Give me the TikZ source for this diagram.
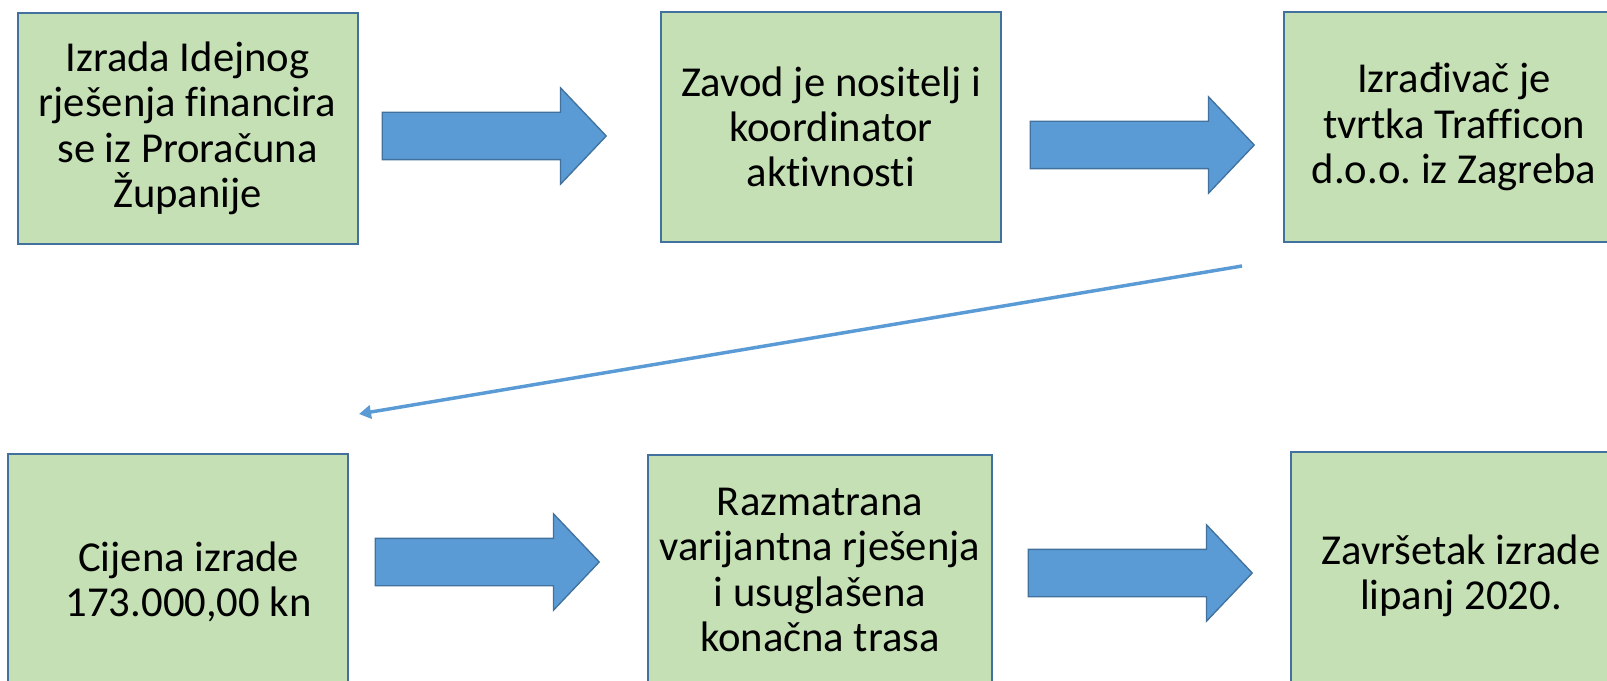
\documentclass[tikz,border=0pt]{standalone}
\usepackage{fontspec}
\setmainfont[Ligatures=NoCommon]{Carlito}
\usetikzlibrary{shapes.arrows,arrows.meta}
\definecolor{boxfill}{HTML}{C5E0B4}
\definecolor{boxline}{HTML}{41719C}
\definecolor{flow}{HTML}{5B9BD5}
\frenchspacing

\begin{document}
\begin{tikzpicture}[
    x=0.75pt,y=-0.75pt,
    box/.style={draw=boxline,fill=boxfill,line width=1.5pt,minimum width=255pt,minimum height=173pt,inner sep=0pt,align=center,font=\fontsize{32}{34}\selectfont},
    bigarrow/.style={single arrow,draw=boxline,fill=flow,line width=1pt,minimum height=168pt,inner xsep=0pt,inner ysep=17.25pt,single arrow head extend=18.4pt,single arrow tip angle=93},
    link/.style={-{Triangle[length=9pt,width=10pt]},draw=flow,line width=2.6pt}
  ]
    \clip (0,0) rectangle (1607,681);

    % top row
    \node[box] (idejno) at (187.5,128.5) {Izrada Idejnog\\rješenja financira\\se iz Proračuna\\Županije};
    \node[box] (zavod) at (831,127) {Zavod je nositelj i\\koordinator\\aktivnosti};
    \node[box] (izradjivac) at (1454,127) {Izrađivač je\\tvrtka Trafficon\\d.o.o. iz Zagreba};

    % bottom row
    \node[box,minimum height=192pt] (cijena) at (178,582) {\hspace*{16pt}Cijena izrade\\\hspace*{16pt}173.000,00 kn};
    \node[box,minimum width=258pt] (trasa) at (820,570) {Razmatrana\\varijantna rješenja\\i usuglašena\\konačna trasa};
    \node[box,minimum height=186pt] (zavrsetak) at (1461,576) {Završetak izrade\\lipanj 2020.};

    % block arrows
    \node[bigarrow] (a1) at (483,136) {};
    \node[bigarrow] (a2) at (1131,145) {};
    \node[bigarrow] (a3) at (476,562) {};
    \node[bigarrow] (a4) at (1129,573) {};

    \coordinate (from) at (1242,266);
    \coordinate (to) at (359,414);
    \draw[link] (from) -- (to);
  \end{tikzpicture}
\end{document}
